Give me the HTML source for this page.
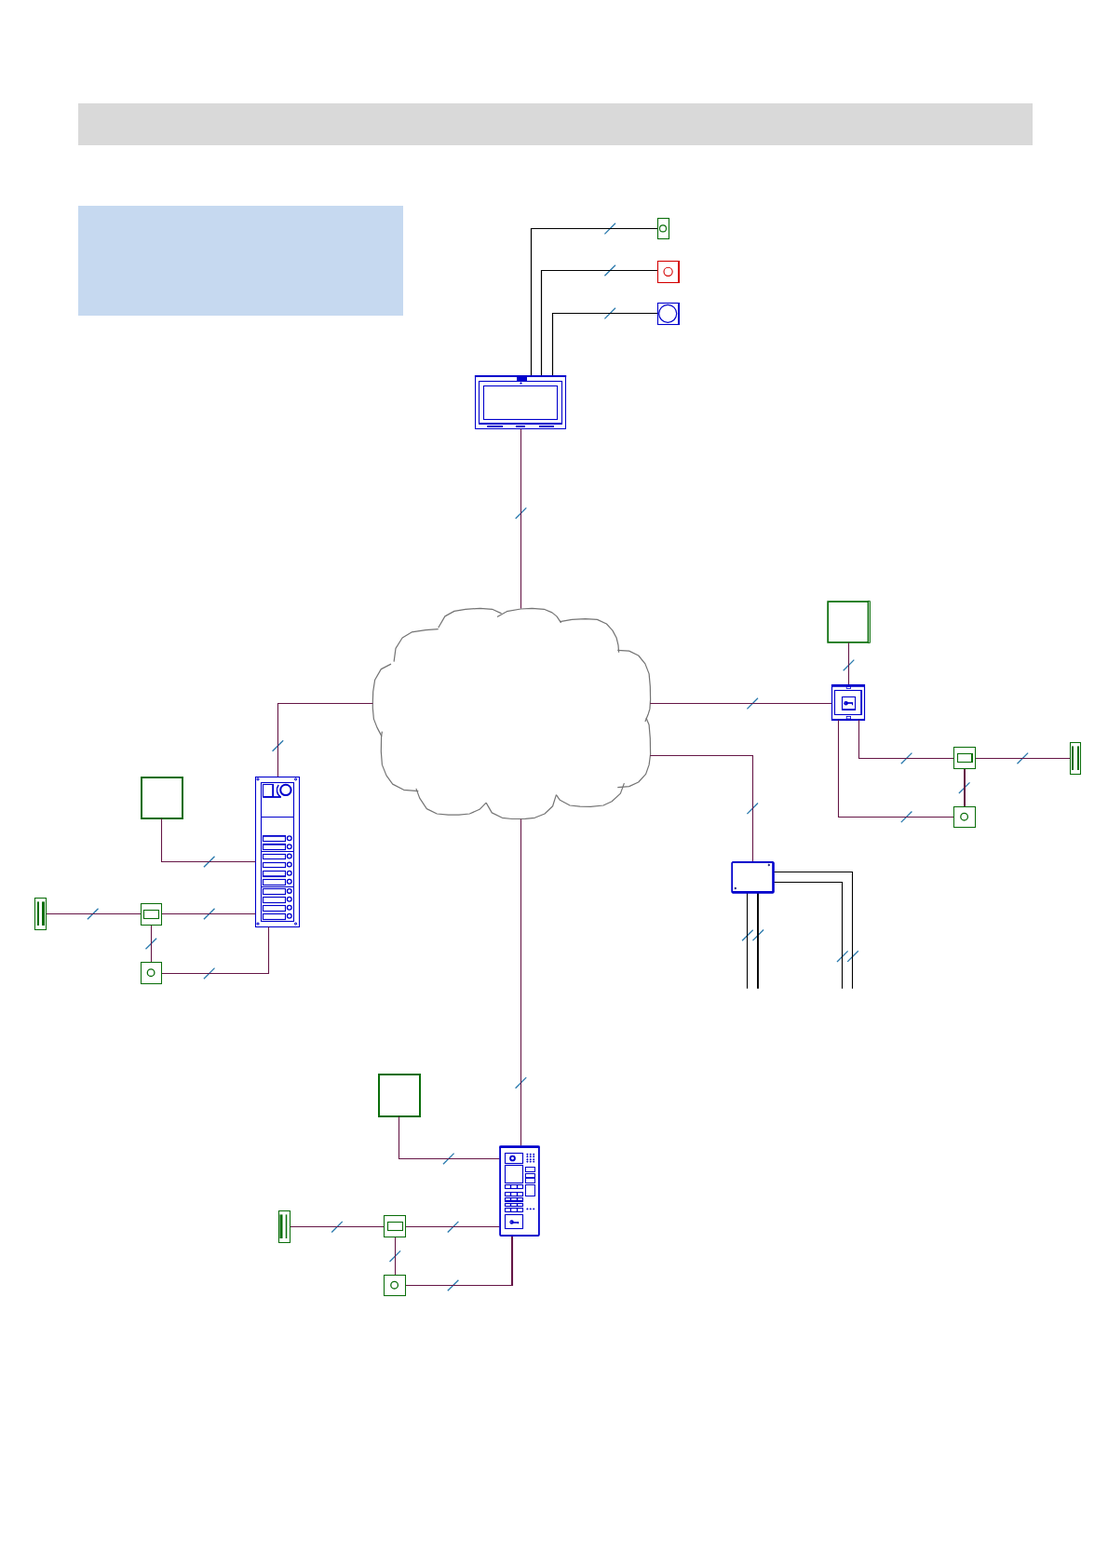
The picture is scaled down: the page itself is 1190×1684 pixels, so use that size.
<!DOCTYPE html>
<html lang="en">
<head>
<meta charset="utf-8">
<title>System diagram</title>
<style>
html,body{margin:0;padding:0;background:#fff;}
body{position:relative;width:1190px;height:1684px;overflow:hidden;font-family:"Liberation Sans",sans-serif;}
.titlebar{position:absolute;left:84px;top:111px;width:1025px;height:45px;background:#d9d9d9;}
.legend{position:absolute;left:84px;top:221px;width:349px;height:118px;background:#c6d9f0;}
.diagram{position:absolute;left:0;top:0;margin:0;width:1190px;height:1684px;}
.diagram svg{display:block;}
</style>
</head>
<body>
<header class="titlebar"></header>
<aside class="legend"></aside>
<figure class="diagram">
<svg width="1190" height="1684" viewBox="0 0 1190 1684">
<line x1="649.4" y1="251.4" x2="661.0" y2="239.8" stroke="#2878ac" stroke-width="1.3"/>
<line x1="649.4" y1="296.3" x2="661.0" y2="284.7" stroke="#2878ac" stroke-width="1.3"/>
<line x1="649.4" y1="342.4" x2="661.0" y2="330.8" stroke="#2878ac" stroke-width="1.3"/>
<line x1="553.7" y1="557.0" x2="565.3" y2="545.4" stroke="#2878ac" stroke-width="1.3"/>
<line x1="292.6" y1="806.8" x2="304.2" y2="795.2" stroke="#2878ac" stroke-width="1.3"/>
<line x1="802.4" y1="761.4" x2="814.0" y2="749.8" stroke="#2878ac" stroke-width="1.3"/>
<line x1="802.4" y1="874.1" x2="814.0" y2="862.5" stroke="#2878ac" stroke-width="1.3"/>
<line x1="553.6" y1="1168.7" x2="565.2" y2="1157.1" stroke="#2878ac" stroke-width="1.3"/>
<line x1="218.9" y1="931.3" x2="230.5" y2="919.7" stroke="#2878ac" stroke-width="1.3"/>
<line x1="93.9" y1="987.3" x2="105.5" y2="975.7" stroke="#2878ac" stroke-width="1.3"/>
<line x1="218.9" y1="987.3" x2="230.5" y2="975.7" stroke="#2878ac" stroke-width="1.3"/>
<line x1="156.5" y1="1019.3" x2="168.1" y2="1007.7" stroke="#2878ac" stroke-width="1.3"/>
<line x1="218.9" y1="1051.2" x2="230.5" y2="1039.6" stroke="#2878ac" stroke-width="1.3"/>
<line x1="905.7" y1="720.2" x2="917.3" y2="708.6" stroke="#2878ac" stroke-width="1.3"/>
<line x1="967.8" y1="820.2" x2="979.4" y2="808.6" stroke="#2878ac" stroke-width="1.3"/>
<line x1="967.8" y1="883.1" x2="979.4" y2="871.5" stroke="#2878ac" stroke-width="1.3"/>
<line x1="1092.5" y1="820.2" x2="1104.1" y2="808.6" stroke="#2878ac" stroke-width="1.3"/>
<line x1="1029.9" y1="852.0" x2="1041.5" y2="840.4" stroke="#2878ac" stroke-width="1.3"/>
<line x1="797.1" y1="1010.3" x2="808.7" y2="998.7" stroke="#2878ac" stroke-width="1.3"/>
<line x1="808.5" y1="1010.1" x2="820.1" y2="998.5" stroke="#2878ac" stroke-width="1.3"/>
<line x1="899.0" y1="1033.0" x2="910.6" y2="1021.4" stroke="#2878ac" stroke-width="1.3"/>
<line x1="910.2" y1="1032.9" x2="921.8" y2="1021.3" stroke="#2878ac" stroke-width="1.3"/>
<line x1="476.0" y1="1250.2" x2="487.6" y2="1238.6" stroke="#2878ac" stroke-width="1.3"/>
<line x1="356.2" y1="1323.5" x2="367.8" y2="1311.9" stroke="#2878ac" stroke-width="1.3"/>
<line x1="480.8" y1="1323.5" x2="492.4" y2="1311.9" stroke="#2878ac" stroke-width="1.3"/>
<line x1="418.5" y1="1355.0" x2="430.1" y2="1343.4" stroke="#2878ac" stroke-width="1.3"/>
<line x1="480.8" y1="1386.3" x2="492.4" y2="1374.7" stroke="#2878ac" stroke-width="1.3"/>
<polyline points="410,790.9 405,781.4 401.4,772.1 400.3,760 400.3,755 400.7,742.9 402.6,730.3 409.3,718.6 420,713.1" fill="none" stroke="#747474" stroke-width="1.2" stroke-linejoin="round"/>
<polyline points="423.1,710.7 425,696.4 432.1,685 442.1,678.9 457.1,676.7 470.7,675.7" fill="none" stroke="#747474" stroke-width="1.2" stroke-linejoin="round"/>
<polyline points="470.7,674.3 477.9,661.9 487.9,656.4 500,654.3 515.7,653.3 528.6,654.3 538.6,658.9" fill="none" stroke="#747474" stroke-width="1.2" stroke-linejoin="round"/>
<polyline points="534,662.4 544.3,656.7 559.3,654 571.4,653.3 584.3,654.3 592.9,657.9 597.9,661.9 602.6,668.9" fill="none" stroke="#747474" stroke-width="1.2" stroke-linejoin="round"/>
<polyline points="601.4,667.6 614.3,665.4 628.6,664.6 641.4,665.4 651.4,670 657.9,677.1 662.1,685 664,692.9 664.6,700.7" fill="none" stroke="#747474" stroke-width="1.2" stroke-linejoin="round"/>
<polyline points="663.3,698.3 675.7,699.1 685.7,704 692.9,712.9 697.1,723.6 698.3,737.1 698.6,751.4 697.9,761.4 696.4,766.4 692.9,775" fill="none" stroke="#747474" stroke-width="1.2" stroke-linejoin="round"/>
<polyline points="694,771.1 697.1,778.6 698.3,792.9 698.6,810 697.1,821.4 693.6,831.4 685.7,840 675.7,844.6 663.3,845.7" fill="none" stroke="#747474" stroke-width="1.2" stroke-linejoin="round"/>
<polyline points="670.4,841.1 666.4,852.1 657.1,860.7 647.9,865 634.3,866.4 622.9,866.1 612.1,865 601.4,859.3 597.4,853.6" fill="none" stroke="#747474" stroke-width="1.2" stroke-linejoin="round"/>
<polyline points="597.4,853.6 593.6,865.7 585,874 574.3,878.3 564.3,879.3 550,879.5 539.3,878.3 528.3,872.9 522.1,862.1" fill="none" stroke="#747474" stroke-width="1.2" stroke-linejoin="round"/>
<polyline points="522.1,862.1 515,869.3 504.3,874 492.9,875.1 481.4,875.1 469.3,874 458.3,868.6 450.7,857.1 446.9,846.9" fill="none" stroke="#747474" stroke-width="1.2" stroke-linejoin="round"/>
<polyline points="449.3,849.6 433.6,848.3 421.7,842.1 415,832.9 410.4,821.4 409.3,807.1 409.6,790.7 410.4,785.7" fill="none" stroke="#747474" stroke-width="1.2" stroke-linejoin="round"/>
<polyline points="570.5,403 570.5,245.5 706.4,245.5" fill="none" stroke="#000" stroke-width="1.2" />
<polyline points="581.5,403 581.5,290.5 706.4,290.5" fill="none" stroke="#000" stroke-width="1.2" />
<polyline points="593.5,403 593.5,336.5 706.4,336.5" fill="none" stroke="#000" stroke-width="1.2" />
<rect x="706.5" y="234.5" width="12.0" height="22.0" fill="none" stroke="#0a6e0a" stroke-width="1.1"/>
<circle cx="712" cy="245.4" r="3.5" fill="none" stroke="#0a6e0a" stroke-width="1.1"/>
<rect x="706.5" y="280.5" width="23.0" height="23.0" fill="none" stroke="#d40000" stroke-width="1.1"/>
<line x1="729.0" y1="280" x2="729.0" y2="304" stroke="#d40000" stroke-width="2" />
<circle cx="717.6" cy="291.8" r="4.6" fill="none" stroke="#d40000" stroke-width="1.1"/>
<rect x="706.5" y="325.5" width="23.0" height="23.0" fill="none" stroke="#0000cc" stroke-width="1.1"/>
<line x1="729.0" y1="325" x2="729.0" y2="349" stroke="#0000cc" stroke-width="2" />
<circle cx="717.2" cy="336.8" r="9.5" fill="none" stroke="#0000cc" stroke-width="1.2"/>
<rect x="510.5" y="403.5" width="97.0" height="57.0" fill="none" stroke="#0000cc" stroke-width="1.05"/>
<line x1="509.9" y1="404.0" x2="608.2" y2="404.0" stroke="#0000cc" stroke-width="2.1" />
<rect x="514.5" y="409.5" width="89.0" height="45.0" fill="none" stroke="#0000cc" stroke-width="1.1"/>
<line x1="514.1" y1="455.0" x2="604" y2="455.0" stroke="#0000cc" stroke-width="1.9" />
<rect x="519.5" y="414.5" width="79.0" height="36.0" fill="none" stroke="#0000cc" stroke-width="1.1"/>
<circle cx="559.5" cy="411.6" r="0.8" fill="#0000cc" stroke="#0000cc" stroke-width="0.6"/>
<rect x="555" y="403" width="11" height="6.3" fill="#0000cc"/>
<line x1="523.2" y1="458.0" x2="540" y2="458.0" stroke="#0000cc" stroke-width="2" />
<line x1="553.9" y1="458.0" x2="564" y2="458.0" stroke="#0000cc" stroke-width="2" />
<line x1="579" y1="458.0" x2="595" y2="458.0" stroke="#0000cc" stroke-width="2" />
<line x1="559.5" y1="460.6" x2="559.5" y2="653.5" stroke="#661646" stroke-width="1.1" />
<polyline points="400.3,755.5 298.5,755.5 298.5,834.5" fill="none" stroke="#661646" stroke-width="1.1" />
<line x1="698.2" y1="755.5" x2="893.4" y2="755.5" stroke="#661646" stroke-width="1.1" />
<polyline points="698.2,811.5 808.5,811.5 808.5,925.1" fill="none" stroke="#661646" stroke-width="1.1" />
<line x1="559.5" y1="879.7" x2="559.5" y2="1230.4" stroke="#661646" stroke-width="1.1" />
<rect x="274.5" y="834.5" width="47.0" height="161.0" fill="none" stroke="#0000cc" stroke-width="1.1"/>
<rect x="280.5" y="840.5" width="35.0" height="149.0" fill="none" stroke="#0000cc" stroke-width="1.1"/>
<circle cx="277" cy="836.9" r="1.15" fill="#9a9af0" stroke="#0000cc" stroke-width="0.9"/>
<circle cx="277" cy="992.1" r="1.15" fill="#9a9af0" stroke="#0000cc" stroke-width="0.9"/>
<circle cx="317.6" cy="836.9" r="1.15" fill="#9a9af0" stroke="#0000cc" stroke-width="0.9"/>
<circle cx="317.6" cy="992.1" r="1.15" fill="#9a9af0" stroke="#0000cc" stroke-width="0.9"/>
<rect x="282.5" y="842.5" width="11.0" height="13.0" fill="none" stroke="#0000cc" stroke-width="1.1"/>
<line x1="282.2" y1="856.0" x2="301.8" y2="856.0" stroke="#0000cc" stroke-width="1.8" />
<line x1="293.0" y1="842.7" x2="293.0" y2="855.9" stroke="#0000cc" stroke-width="1.5" />
<circle cx="306.9" cy="848.4" r="5.7" fill="none" stroke="#0000cc" stroke-width="2"/>
<path d="M301.6 856 A9 9 0 0 1 299.2 843" fill="none" stroke="#0000cc" stroke-width="1.4"/>
<line x1="280.5" y1="877.5" x2="315.5" y2="877.5" stroke="#0000cc" stroke-width="1" />
<line x1="280.5" y1="914.5" x2="315.5" y2="914.5" stroke="#0000cc" stroke-width="1" />
<line x1="280.5" y1="952.5" x2="315.5" y2="952.5" stroke="#0000cc" stroke-width="1" />
<rect x="282.5" y="897.5" width="24.0" height="6.0" fill="none" stroke="#0000cc" stroke-width="1.15"/>
<circle cx="310.8" cy="900.2" r="2.35" fill="none" stroke="#0000cc" stroke-width="1.3"/>
<rect x="282.5" y="906.5" width="24.0" height="6.0" fill="none" stroke="#0000cc" stroke-width="1.15"/>
<circle cx="310.8" cy="909.2" r="2.35" fill="none" stroke="#0000cc" stroke-width="1.3"/>
<rect x="282.5" y="917.5" width="24.0" height="5.0" fill="none" stroke="#0000cc" stroke-width="1.15"/>
<circle cx="310.8" cy="919.5" r="2.35" fill="none" stroke="#0000cc" stroke-width="1.3"/>
<rect x="282.5" y="926.5" width="24.0" height="5.0" fill="none" stroke="#0000cc" stroke-width="1.15"/>
<circle cx="310.8" cy="928.5" r="2.35" fill="none" stroke="#0000cc" stroke-width="1.3"/>
<rect x="282.5" y="935.5" width="24.0" height="6.0" fill="none" stroke="#0000cc" stroke-width="1.15"/>
<circle cx="310.8" cy="937.8" r="2.35" fill="none" stroke="#0000cc" stroke-width="1.3"/>
<rect x="282.5" y="944.5" width="24.0" height="6.0" fill="none" stroke="#0000cc" stroke-width="1.15"/>
<circle cx="310.8" cy="946.8" r="2.35" fill="none" stroke="#0000cc" stroke-width="1.3"/>
<rect x="282.5" y="954.5" width="24.0" height="6.0" fill="none" stroke="#0000cc" stroke-width="1.15"/>
<circle cx="310.8" cy="956.9" r="2.35" fill="none" stroke="#0000cc" stroke-width="1.3"/>
<rect x="282.5" y="963.5" width="24.0" height="6.0" fill="none" stroke="#0000cc" stroke-width="1.15"/>
<circle cx="310.8" cy="965.7" r="2.35" fill="none" stroke="#0000cc" stroke-width="1.3"/>
<rect x="282.5" y="972.5" width="24.0" height="6.0" fill="none" stroke="#0000cc" stroke-width="1.15"/>
<circle cx="310.8" cy="974.7" r="2.35" fill="none" stroke="#0000cc" stroke-width="1.3"/>
<rect x="282.5" y="981.5" width="24.0" height="6.0" fill="none" stroke="#0000cc" stroke-width="1.15"/>
<circle cx="310.8" cy="983.8" r="2.35" fill="none" stroke="#0000cc" stroke-width="1.3"/>
<line x1="282.7" y1="898.0" x2="306.4" y2="898.0" stroke="#0000cc" stroke-width="1.5" />
<line x1="282.7" y1="907.0" x2="306.4" y2="907.0" stroke="#0000cc" stroke-width="1.5" />
<line x1="282.7" y1="941.0" x2="306.4" y2="941.0" stroke="#0000cc" stroke-width="1.5" />
<rect x="152.0" y="835.0" width="44.0" height="44.0" fill="none" stroke="#0a6e0a" stroke-width="2"/>
<polyline points="173.5,879.1 173.5,925.5 274.5,925.5" fill="none" stroke="#661646" stroke-width="1.1" />
<line x1="49.6" y1="981.5" x2="274.5" y2="981.5" stroke="#661646" stroke-width="1.1" />
<rect x="37.5" y="964.5" width="12.0" height="34.0" fill="#fff" stroke="#0a6e0a" stroke-width="1.05"/>
<rect x="40.0" y="968.4" width="2" height="25.6" fill="#0a6e0a"/>
<rect x="45.0" y="968.4" width="3" height="25.6" fill="#0a6e0a"/>
<line x1="162.5" y1="993.8" x2="162.5" y2="1033.4" stroke="#661646" stroke-width="1.1" />
<rect x="151.5" y="970.5" width="22.0" height="23.0" fill="#fff" stroke="#0a6e0a" stroke-width="1.05"/>
<rect x="154.5" y="977.5" width="16.0" height="9.0" fill="none" stroke="#0a6e0a" stroke-width="1.1"/>
<polyline points="174,1045.5 288.5,1045.5 288.5,995.5" fill="none" stroke="#661646" stroke-width="1.1" />
<rect x="151.5" y="1033.5" width="22.0" height="23.0" fill="#fff" stroke="#0a6e0a" stroke-width="1.05"/>
<circle cx="162.1" cy="1044.7" r="3.8" fill="none" stroke="#0a6e0a" stroke-width="1.3"/>
<rect x="889.15" y="646.1" width="43.3" height="43.8" fill="none" stroke="#0a6e0a" stroke-width="1.7"/>
<path d="M932 645.6H934.5V690.4H932" fill="none" stroke="#0a6e0a" stroke-width="0.9"/>
<line x1="911.5" y1="690.2" x2="911.5" y2="735.5" stroke="#661646" stroke-width="1.1" />
<rect x="893.5" y="735.5" width="35.0" height="38.0" fill="none" stroke="#0000cc" stroke-width="1.2"/>
<rect x="893" y="735.2" width="36" height="2.6" fill="#0000cc"/>
<line x1="893.5" y1="773.0" x2="928.8" y2="773.0" stroke="#0000cc" stroke-width="1.8" />
<rect x="896.5" y="741.5" width="29.0" height="26.0" fill="none" stroke="#0000cc" stroke-width="1.1"/>
<line x1="925.0" y1="741.3" x2="925.0" y2="767.2" stroke="#0000cc" stroke-width="1.6" />
<rect x="904.5" y="748.5" width="14.0" height="14.0" fill="none" stroke="#0000cc" stroke-width="1.1"/>
<line x1="904.3" y1="762.0" x2="918.8" y2="762.0" stroke="#0000cc" stroke-width="1.6" />
<rect x="909.2" y="737.6" width="4.4" height="1.8" fill="#fff" stroke="#0000cc" stroke-width="0.8"/>
<rect x="909.2" y="769.4" width="4.4" height="2.6" fill="#fff" stroke="#0000cc" stroke-width="0.8"/>
<circle cx="908.6" cy="755.2" r="2.3" fill="#0000cc" stroke="#0000cc" stroke-width="0"/>
<circle cx="907.9" cy="755.1" r="0.55" fill="#8a8af0" stroke="none" stroke-width="0"/>
<line x1="910" y1="755.0" x2="916" y2="755.0" stroke="#0000cc" stroke-width="1.7" />
<line x1="915.5" y1="755" x2="915.5" y2="757.3" stroke="#0000cc" stroke-width="1.2" />
<polyline points="900.5,773.3 900.5,877.5 1024.1,877.5" fill="none" stroke="#661646" stroke-width="1.1" />
<polyline points="922.5,773.3 922.5,814.5 1024.1,814.5" fill="none" stroke="#661646" stroke-width="1.1" />
<line x1="1047.7" y1="814.5" x2="1149.8" y2="814.5" stroke="#661646" stroke-width="1.1" />
<rect x="1149.5" y="797.5" width="11.0" height="34.0" fill="#fff" stroke="#0a6e0a" stroke-width="1.05"/>
<rect x="1151.0" y="801.4" width="2" height="25.6" fill="#0a6e0a"/>
<rect x="1157.0" y="801.4" width="2" height="25.6" fill="#0a6e0a"/>
<line x1="1036.0" y1="825.7" x2="1036.0" y2="866" stroke="#661646" stroke-width="2" />
<rect x="1024.5" y="802.5" width="23.0" height="23.0" fill="#fff" stroke="#0a6e0a" stroke-width="1.05"/>
<rect x="1028.5" y="809.5" width="16.0" height="9.0" fill="none" stroke="#0a6e0a" stroke-width="1.1"/>
<line x1="1044.0" y1="809" x2="1044.0" y2="819" stroke="#0a6e0a" stroke-width="2" />
<rect x="1024.5" y="866.5" width="23.0" height="22.0" fill="#fff" stroke="#0a6e0a" stroke-width="1.05"/>
<circle cx="1035.6" cy="877.2" r="3.8" fill="none" stroke="#0a6e0a" stroke-width="1.3"/>
<polyline points="831.3,936.5 915.5,936.5 915.5,1061.7" fill="none" stroke="#000" stroke-width="1.1" />
<polyline points="831.3,947.5 904.5,947.5 904.5,1061.7" fill="none" stroke="#000" stroke-width="1.1" />
<line x1="802.5" y1="959" x2="802.5" y2="1061.7" stroke="#000" stroke-width="1.1" />
<line x1="814.0" y1="959" x2="814.0" y2="1061.7" stroke="#000" stroke-width="1.9" />
<path fill-rule="evenodd" fill="#0000cc" d="M786.8 925H830.3L831.8 926.5V958.2L830.3 959.7H786.8L785.3 958.2V926.5ZM787.1 927V957.1H829.2V927Z"/>
<circle cx="825.8" cy="929" r="0.8" fill="#101070" stroke="#101070" stroke-width="0.8"/>
<circle cx="789.8" cy="954" r="0.8" fill="#101070" stroke="#101070" stroke-width="0.8"/>
<rect x="407.0" y="1154.0" width="44.0" height="45.0" fill="none" stroke="#0a6e0a" stroke-width="2"/>
<polyline points="428.5,1199 428.5,1244.5 536.5,1244.5" fill="none" stroke="#661646" stroke-width="1.1" />
<line x1="311.5" y1="1317.5" x2="536.5" y2="1317.5" stroke="#661646" stroke-width="1.1" />
<rect x="299.5" y="1300.5" width="12.0" height="34.0" fill="#fff" stroke="#0a6e0a" stroke-width="1.05"/>
<rect x="300.5" y="1304.4" width="3" height="25.6" fill="#0a6e0a"/>
<rect x="306.75" y="1304.4" width="1.5" height="25.6" fill="#0a6e0a"/>
<line x1="424.5" y1="1328.7" x2="424.5" y2="1369.3" stroke="#661646" stroke-width="1.1" />
<rect x="412.5" y="1305.5" width="23.0" height="23.0" fill="#fff" stroke="#0a6e0a" stroke-width="1.05"/>
<rect x="416.5" y="1312.5" width="16.0" height="9.0" fill="none" stroke="#0a6e0a" stroke-width="1.1"/>
<line x1="435.8" y1="1380.5" x2="550.6" y2="1380.5" stroke="#661646" stroke-width="1.1" />
<line x1="550.0" y1="1381" x2="550.0" y2="1327.5" stroke="#661646" stroke-width="2.1" />
<rect x="412.5" y="1369.5" width="23.0" height="22.0" fill="#fff" stroke="#0a6e0a" stroke-width="1.05"/>
<circle cx="423.6" cy="1380.2" r="3.8" fill="none" stroke="#0a6e0a" stroke-width="1.3"/>
<rect x="537.1" y="1231.4" width="41.8" height="95.6" rx="1" fill="#fff" stroke="#0000cc" stroke-width="1.8"/>
<rect x="536.4" y="1230.5" width="43.2" height="2.5" fill="#0000cc"/>
<rect x="542.5" y="1238.5" width="19.0" height="11.0" fill="none" stroke="#0000cc" stroke-width="1.1"/>
<circle cx="550.5" cy="1244" r="2.4" fill="none" stroke="#0000cc" stroke-width="1.9"/>
<circle cx="566.4" cy="1239.7" r="0.7" fill="#0000cc" stroke="#0000cc" stroke-width="0.6"/>
<circle cx="566.4" cy="1242.2" r="0.7" fill="#0000cc" stroke="#0000cc" stroke-width="0.6"/>
<circle cx="566.4" cy="1245.3" r="0.7" fill="#0000cc" stroke="#0000cc" stroke-width="0.6"/>
<circle cx="566.4" cy="1247.6" r="0.7" fill="#0000cc" stroke="#0000cc" stroke-width="0.6"/>
<circle cx="569.8" cy="1239.7" r="0.7" fill="#0000cc" stroke="#0000cc" stroke-width="0.6"/>
<circle cx="569.8" cy="1242.2" r="0.7" fill="#0000cc" stroke="#0000cc" stroke-width="0.6"/>
<circle cx="569.8" cy="1245.3" r="0.7" fill="#0000cc" stroke="#0000cc" stroke-width="0.6"/>
<circle cx="569.8" cy="1247.6" r="0.7" fill="#0000cc" stroke="#0000cc" stroke-width="0.6"/>
<circle cx="573.2" cy="1239.7" r="0.7" fill="#0000cc" stroke="#0000cc" stroke-width="0.6"/>
<circle cx="573.2" cy="1242.2" r="0.7" fill="#0000cc" stroke="#0000cc" stroke-width="0.6"/>
<circle cx="573.2" cy="1245.3" r="0.7" fill="#0000cc" stroke="#0000cc" stroke-width="0.6"/>
<circle cx="573.2" cy="1247.6" r="0.7" fill="#0000cc" stroke="#0000cc" stroke-width="0.6"/>
<rect x="542.5" y="1251.5" width="19.0" height="19.0" fill="none" stroke="#0000cc" stroke-width="1.1"/>
<rect x="542.5" y="1272.5" width="19.0" height="4.0" fill="none" stroke="#0000cc" stroke-width="1.1"/>
<line x1="548.5" y1="1272.5" x2="548.5" y2="1276.4" stroke="#0000cc" stroke-width="1.4" />
<line x1="555.5" y1="1272.5" x2="555.5" y2="1276.4" stroke="#0000cc" stroke-width="1.4" />
<rect x="542.5" y="1280.5" width="19.0" height="4.0" fill="none" stroke="#0000cc" stroke-width="1.1"/>
<line x1="548.5" y1="1280.5" x2="548.5" y2="1284.3" stroke="#0000cc" stroke-width="1.4" />
<line x1="555.5" y1="1280.5" x2="555.5" y2="1284.3" stroke="#0000cc" stroke-width="1.4" />
<rect x="542.5" y="1286.5" width="19.0" height="4.0" fill="none" stroke="#0000cc" stroke-width="1.1"/>
<line x1="548.5" y1="1286.5" x2="548.5" y2="1290.3" stroke="#0000cc" stroke-width="1.4" />
<line x1="555.5" y1="1286.5" x2="555.5" y2="1290.3" stroke="#0000cc" stroke-width="1.4" />
<rect x="542.5" y="1292.5" width="19.0" height="3.0" fill="none" stroke="#0000cc" stroke-width="1.1"/>
<line x1="548.5" y1="1292.2" x2="548.5" y2="1295.5" stroke="#0000cc" stroke-width="1.4" />
<line x1="555.5" y1="1292.2" x2="555.5" y2="1295.5" stroke="#0000cc" stroke-width="1.4" />
<rect x="542.5" y="1297.5" width="19.0" height="4.0" fill="none" stroke="#0000cc" stroke-width="1.1"/>
<line x1="548.5" y1="1297.3" x2="548.5" y2="1301.4" stroke="#0000cc" stroke-width="1.4" />
<line x1="555.5" y1="1297.3" x2="555.5" y2="1301.4" stroke="#0000cc" stroke-width="1.4" />
<line x1="542.4" y1="1289.5" x2="561.6" y2="1289.5" stroke="#0000cc" stroke-width="1.2" />
<rect x="542.5" y="1304.5" width="19.0" height="15.0" fill="none" stroke="#0000cc" stroke-width="1.1"/>
<circle cx="549.6" cy="1312.5" r="2.2" fill="#0000cc" stroke="#0000cc" stroke-width="0"/>
<circle cx="548.9" cy="1312.4" r="0.6" fill="#9a9af4" stroke="none" stroke-width="0"/>
<line x1="551" y1="1313.0" x2="557" y2="1313.0" stroke="#0000cc" stroke-width="1.6" />
<line x1="556.5" y1="1312" x2="556.5" y2="1314.3" stroke="#0000cc" stroke-width="1.2" />
<rect x="564.5" y="1253.5" width="10.0" height="5.0" fill="none" stroke="#0000cc" stroke-width="1"/>
<rect x="564.5" y="1260.5" width="10.0" height="10.0" fill="none" stroke="#0000cc" stroke-width="1"/>
<line x1="564.5" y1="1265.0" x2="574.7" y2="1265.0" stroke="#0000cc" stroke-width="1.8" />
<rect x="564.5" y="1272.5" width="10.0" height="12.0" fill="none" stroke="#0000cc" stroke-width="1"/>
<circle cx="566.4" cy="1298.4" r="0.7" fill="#0000cc" stroke="#0000cc" stroke-width="0.6"/>
<circle cx="569.8" cy="1298.4" r="0.7" fill="#0000cc" stroke="#0000cc" stroke-width="0.6"/>
<circle cx="573.2" cy="1298.4" r="0.7" fill="#0000cc" stroke="#0000cc" stroke-width="0.6"/>
</svg>
</figure>
</body>
</html>
